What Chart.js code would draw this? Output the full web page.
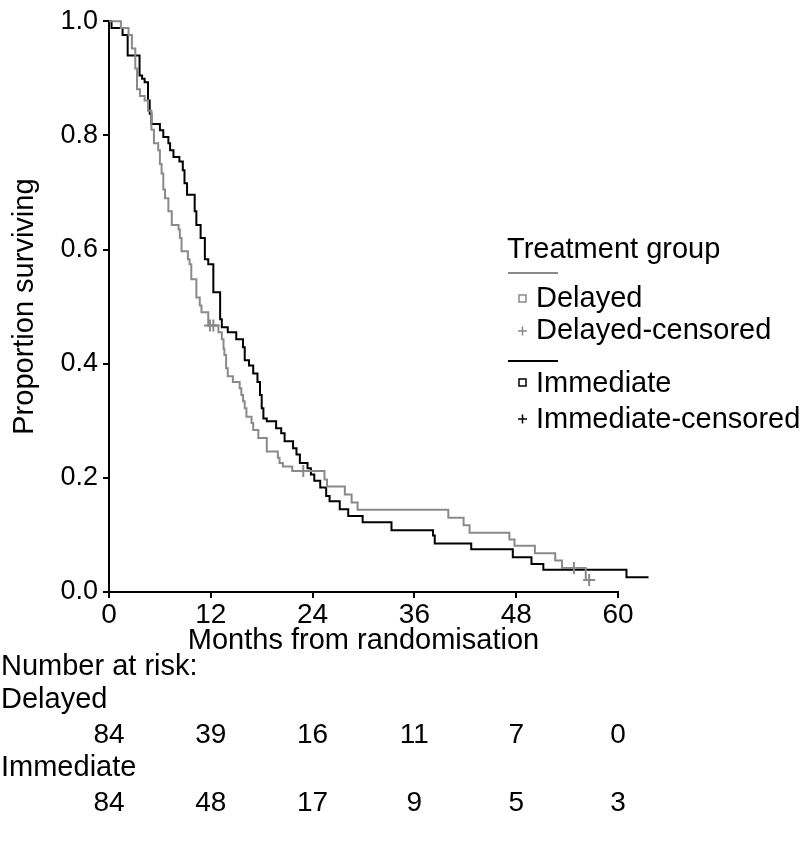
<!DOCTYPE html>
<html>
<head>
<meta charset="utf-8">
<script src="https://cdn.jsdelivr.net/npm/chart.js@4.4.1/dist/chart.umd.min.js"></script>
<style>
  html, body { margin: 0; padding: 0; background: #fff; }
  #wrap { width: 810px; height: 843px; }
</style>
</head>
<body>
<div id="wrap"><canvas id="kmChart" width="810" height="843"></canvas></div>
<script>
const FONT = "Liberation Sans";
const TEXT_SIZE = 29;
const TICK_SIZE = 27;
const GREY = "#8a8a8a";
const BLACK = "#000000";

// Kaplan-Meier steps (months, proportion surviving)
const delayedMonths = [0, 1.4, 2.3, 2.7, 3.1, 3.3, 3.65, 4.2, 4.6, 5.0, 5.3, 5.8, 6.0, 6.2, 6.4, 6.6, 7.0, 7.4, 8.2, 8.35, 8.55, 9.3, 9.5, 9.7, 10.3, 10.7, 10.9, 11.7, 12.9, 13.3, 13.5, 13.6, 13.8, 14.0, 14.6, 15.4, 15.6, 15.8, 16.0, 16.2, 16.8, 17.0, 17.6, 18.6, 19.9, 20.1, 20.5, 21.6, 25.4, 25.7, 27.8, 28.6, 29.3, 40.0, 41.8, 42.5, 47.2, 47.8, 50.2, 52.6, 53.4, 56.2, 56.6];
const delayedSurvival = [1.0, 0.988, 0.976, 0.952, 0.917, 0.881, 0.869, 0.861, 0.843, 0.810, 0.786, 0.774, 0.750, 0.733, 0.705, 0.690, 0.667, 0.643, 0.635, 0.620, 0.597, 0.583, 0.574, 0.548, 0.516, 0.502, 0.490, 0.467, 0.455, 0.443, 0.426, 0.415, 0.392, 0.378, 0.368, 0.357, 0.345, 0.334, 0.322, 0.307, 0.296, 0.284, 0.270, 0.246, 0.235, 0.226, 0.220, 0.212, 0.197, 0.185, 0.171, 0.157, 0.144, 0.130, 0.117, 0.104, 0.092, 0.081, 0.068, 0.055, 0.042, 0.021, 0.021];
const delayedCensorMonths = [11.9, 12.3, 22.9, 54.8, 56.6];
const delayedCensorSurvival = [0.467, 0.467, 0.212, 0.042, 0.021];

const immediateMonths = [0, 0.3, 1.6, 2.2, 3.6, 3.9, 4.2, 4.6, 4.8, 5.0, 6.0, 6.4, 7.0, 7.2, 7.6, 8.3, 8.7, 8.9, 9.2, 10.1, 10.3, 10.8, 11.3, 11.7, 12.3, 13.1, 13.3, 14.0, 15.0, 15.8, 16.0, 16.5, 17.0, 17.5, 17.8, 18.0, 18.2, 18.6, 19.7, 20.3, 20.7, 21.7, 22.1, 22.5, 23.4, 23.8, 24.2, 24.9, 25.6, 26.0, 27.2, 28.2, 29.9, 33.3, 38.2, 38.4, 42.7, 47.6, 49.8, 51.2, 61.0, 63.6];
const immediateSurvival = [1.0, 0.988, 0.976, 0.940, 0.905, 0.899, 0.893, 0.861, 0.838, 0.820, 0.809, 0.797, 0.786, 0.774, 0.762, 0.754, 0.739, 0.716, 0.696, 0.667, 0.643, 0.620, 0.583, 0.574, 0.525, 0.478, 0.464, 0.455, 0.443, 0.429, 0.406, 0.397, 0.383, 0.368, 0.345, 0.322, 0.304, 0.299, 0.287, 0.278, 0.264, 0.252, 0.241, 0.226, 0.217, 0.206, 0.195, 0.183, 0.168, 0.159, 0.145, 0.133, 0.122, 0.108, 0.099, 0.085, 0.075, 0.061, 0.049, 0.039, 0.026, 0.026];

const xTickMonths = [0, 12, 24, 36, 48, 60];
const atRiskDelayed = [84, 39, 16, 11, 7, 0];
const atRiskImmediate = [84, 48, 17, 9, 5, 3];

function toPoints(xs, ys) {
  return xs.map((x, i) => ({ x, y: ys[i] }));
}

function drawCross(ctx, x, y, r, color) {
  ctx.strokeStyle = color;
  ctx.lineWidth = 1.5;
  ctx.beginPath();
  ctx.moveTo(x - r, y);
  ctx.lineTo(x + r, y);
  ctx.moveTo(x, y - r);
  ctx.lineTo(x, y + r);
  ctx.stroke();
}

function drawSquare(ctx, x, y, size, color) {
  ctx.strokeStyle = color;
  ctx.lineWidth = 1.5;
  ctx.strokeRect(x - size / 2, y - size / 2, size, size);
}

const extrasPlugin = {
  id: "kmExtras",
  afterDraw(chart) {
    const ctx = chart.ctx;
    const xScale = chart.scales.x;
    ctx.save();
    ctx.font = `${TEXT_SIZE}px "${FONT}"`;
    ctx.fillStyle = BLACK;
    ctx.textBaseline = "middle";
    ctx.textAlign = "left";

    // legend block inside the plot
    ctx.fillText("Treatment group", 507, 250);
    ctx.strokeStyle = GREY;
    ctx.lineWidth = 2;
    ctx.beginPath();
    ctx.moveTo(508, 273);
    ctx.lineTo(558, 273);
    ctx.stroke();
    drawSquare(ctx, 522.5, 298.5, 7, GREY);
    ctx.fillText("Delayed", 536, 299);
    drawCross(ctx, 522.5, 331, 4.5, GREY);
    ctx.fillText("Delayed-censored", 536, 331);
    ctx.strokeStyle = BLACK;
    ctx.lineWidth = 2;
    ctx.beginPath();
    ctx.moveTo(508, 361);
    ctx.lineTo(558, 361);
    ctx.stroke();
    drawSquare(ctx, 522.5, 382.5, 7, BLACK);
    ctx.fillText("Immediate", 536, 384);
    drawCross(ctx, 522.5, 419, 4.5, BLACK);
    ctx.fillText("Immediate-censored", 536, 420);

    // number at risk table
    ctx.fillText("Number at risk:", 1, 667);
    ctx.fillText("Delayed", 1, 700);
    ctx.fillText("Immediate", 1, 768);
    ctx.font = `${TICK_SIZE + 1}px "${FONT}"`;
    ctx.textAlign = "center";
    xTickMonths.forEach((m, i) => {
      const px = xScale.getPixelForValue(m);
      ctx.fillText(String(atRiskDelayed[i]), px, 735);
      ctx.fillText(String(atRiskImmediate[i]), px, 803);
    });
    ctx.restore();
  }
};

const ctx = document.getElementById("kmChart").getContext("2d");

new Chart(ctx, {
  type: "line",
  data: {
    datasets: [
      {
        label: "Delayed",
        data: toPoints(delayedMonths, delayedSurvival),
        borderColor: GREY,
        borderWidth: 2,
        pointRadius: 0,
        stepped: "before",
        clip: false
      },
      {
        label: "Delayed-censored",
        data: toPoints(delayedCensorMonths, delayedCensorSurvival),
        showLine: false,
        pointStyle: "cross",
        pointRadius: 6,
        pointBorderWidth: 2,
        borderColor: GREY,
        clip: false
      },
      {
        label: "Immediate",
        data: toPoints(immediateMonths, immediateSurvival),
        borderColor: BLACK,
        borderWidth: 2,
        pointRadius: 0,
        stepped: "before",
        clip: false
      }
    ]
  },
  options: {
    responsive: false,
    animation: false,
    layout: {
      padding: { top: 17, left: 0, right: 192, bottom: 185 }
    },
    plugins: {
      legend: { display: false },
      tooltip: { enabled: false }
    },
    scales: {
      x: {
        type: "linear",
        afterDataLimits: (scale) => {
          scale.min = 0;
          scale.max = 60;
        },
        afterFit: (scale) => {
          scale.height = 66;
        },
        ticks: {
          stepSize: 12,
          color: BLACK,
          padding: 0,
          font: { family: FONT, size: TICK_SIZE + 1 }
        },
        grid: {
          drawOnChartArea: false,
          color: BLACK,
          lineWidth: 2,
          tickLength: 6
        },
        border: { color: BLACK, width: 2 },
        title: {
          display: true,
          text: "Months from randomisation",
          color: BLACK,
          padding: { top: 0, bottom: 0 },
          font: { family: FONT, size: TEXT_SIZE }
        }
      },
      y: {
        min: 0,
        max: 1,
        afterFit: (scale) => {
          scale.width = 109;
        },
        ticks: {
          stepSize: 0.2,
          color: BLACK,
          padding: 5,
          font: { family: FONT, size: TICK_SIZE },
          callback: (value) => Number(value).toFixed(1)
        },
        grid: {
          drawOnChartArea: false,
          color: BLACK,
          lineWidth: 2,
          tickLength: 6
        },
        border: { color: BLACK, width: 2 },
        title: {
          display: true,
          text: "Proportion surviving",
          color: BLACK,
          padding: { top: 8, bottom: 0 },
          font: { family: FONT, size: TEXT_SIZE }
        }
      }
    }
  },
  plugins: [extrasPlugin]
});
</script>
</body>
</html>
